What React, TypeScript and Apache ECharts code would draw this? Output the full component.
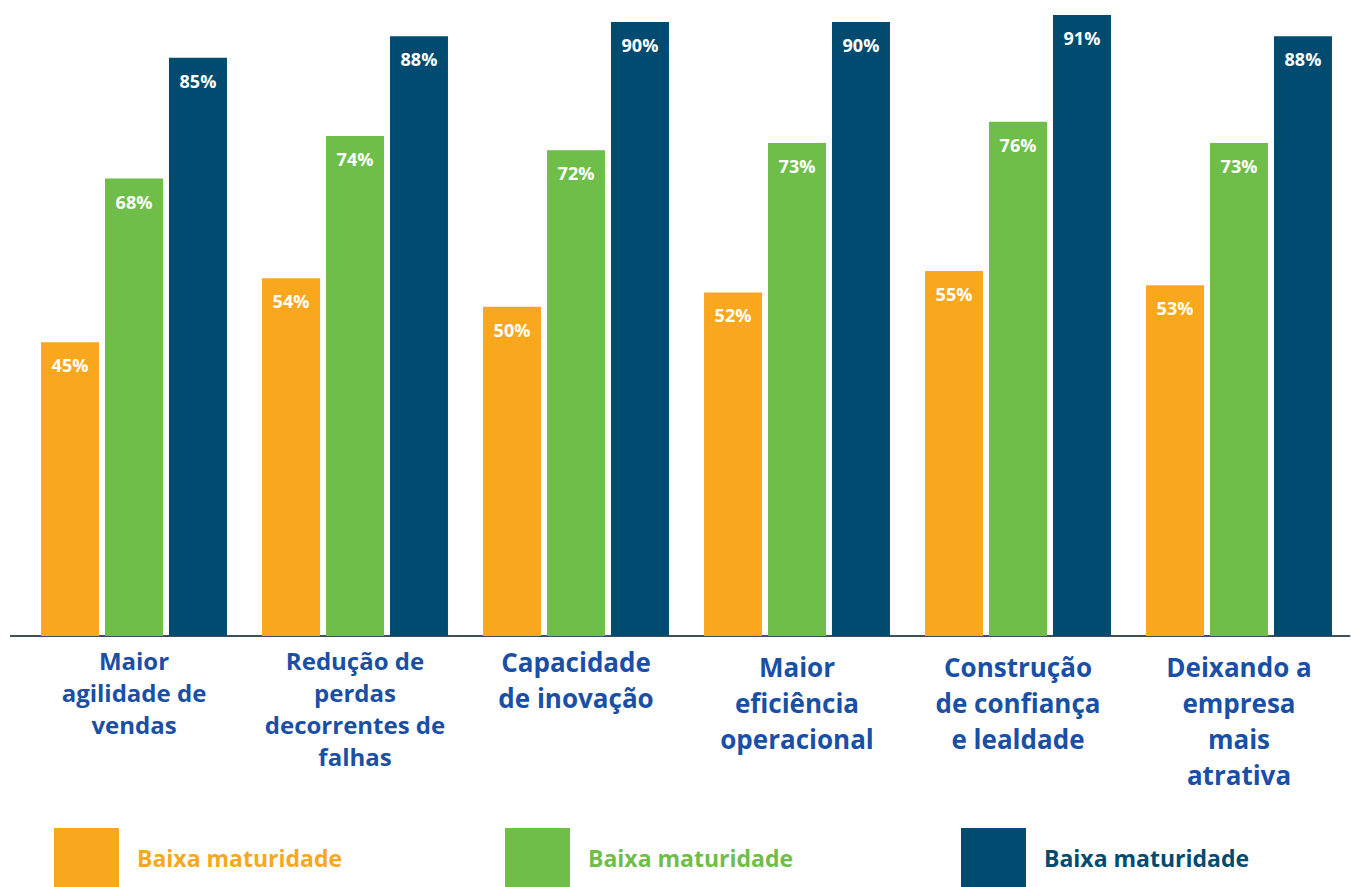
import React, { useEffect, useRef } from "react";
import * as echarts from "echarts";

const categories = [
  "Maior\nagilidade de\nvendas",
  "Redução de\nperdas\ndecorrentes de\nfalhas",
  "Capacidade\nde inovação",
  "Maior\neficiência\noperacional",
  "Construção\nde confiança\ne lealdade",
  "Deixando a\nempresa\nmais\natrativa",
];
const seriesName = "Baixa maturidade";
const orangeValues = [45, 54, 50, 52, 55, 53];
const greenValues = [68, 74, 72, 73, 76, 73];
const navyValues = [85, 88, 90, 90, 91, 88];

const ORANGE = "#F9A81D";
const GREEN = "#6FBE4A";
const NAVY = "#004B6F";
const LABEL_BLUE = "#1A4FA6";

export default function App() {
  const ref = useRef<HTMLDivElement>(null);
  useEffect(() => {
    if (!ref.current) return;
    const chart = echarts.init(ref.current, null, { renderer: "svg" });
    const label = {
      show: true,
      position: "insideTop" as const,
      distance: 14,
      color: "#ffffff",
      fontFamily: "Open Sans",
      fontWeight: "bold" as const,
      fontSize: 18,
      formatter: "{c}%",
    };
    const mkSeries = (data: number[], color: string) => ({
      name: seriesName,
      type: "bar" as const,
      data,
      barWidth: 58,
      barGap: "10.3%",
      itemStyle: { color },
      label,
    });
    const mkLegend = (left: number, color: string) => ({
      left,
      top: 828,
      padding: 0,
      orient: "horizontal" as const,
      icon: "rect",
      itemWidth: 65,
      itemHeight: 59,
      selectedMode: false,
      data: [
        {
          name: seriesName,
          itemStyle: { color },
          textStyle: { color },
        },
      ],
      textStyle: {
        color,
        fontFamily: "Open Sans",
        fontWeight: "bold" as const,
        fontSize: 23,
        padding: [0, 0, 0, 13],
      },
    });
    const baseRich = {
      fontFamily: "Open Sans",
      fontWeight: "bold",
      color: LABEL_BLUE,
    };
    const xData = categories.map((c, i) =>
      i >= 3 ? { value: c, textStyle: { padding: [5, 0, 0, 0] } } : { value: c }
    );
    chart.setOption({
      animation: false,
      backgroundColor: "#ffffff",
      grid: { left: 23.5, right: 5.5, top: 15, bottom: 251 },
      legend: [mkLegend(54, ORANGE), mkLegend(505, GREEN), mkLegend(961, NAVY)],
      graphic: [
        {
          type: "line",
          shape: { x1: 10, y1: 636, x2: 24, y2: 636 },
          style: { stroke: "#3E515B", lineWidth: 2 },
        },
      ],
      xAxis: {
        type: "category",
        data: xData,
        axisTick: { show: false },
        axisLine: { lineStyle: { color: "#3E515B", width: 2 } },
        axisLabel: {
          interval: 0,
          margin: 8,
          formatter: (v: string, i: number) =>
            v
              .split("\n")
              .map((l) => `{${i < 2 ? "a" : "b"}|${l}}`)
              .join("\n"),
          rich: {
            a: { ...baseRich, fontSize: 24, lineHeight: 32 },
            b: { ...baseRich, fontSize: 26, lineHeight: 36 },
          },
        },
      },
      yAxis: {
        type: "value",
        min: 3.7,
        max: 91,
        show: false,
        splitLine: { show: false },
      },
      series: [
        mkSeries(orangeValues, ORANGE),
        mkSeries(greenValues, GREEN),
        mkSeries(navyValues, NAVY),
      ],
    });
    return () => chart.dispose();
  }, []);
  return (
    <div
      ref={ref}
      style={{ position: "absolute", left: 0, top: 0, width: 1355, height: 887 }}
    />
  );
}
